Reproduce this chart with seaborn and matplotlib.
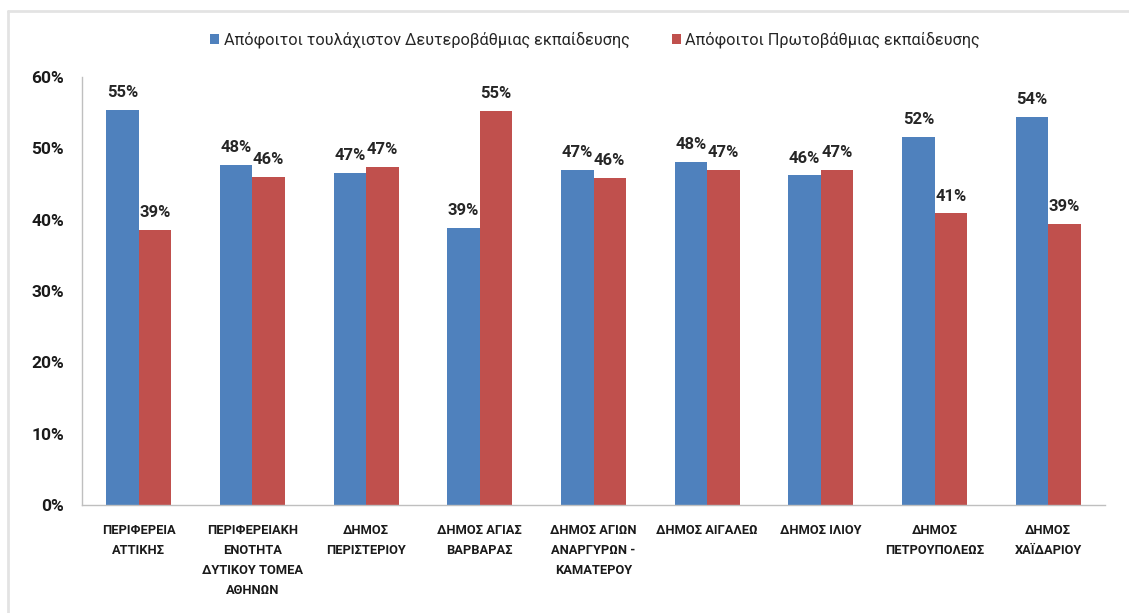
import seaborn as sns
import matplotlib.pyplot as plt
import pandas as pd
import numpy as np
from matplotlib.lines import Line2D
from matplotlib.ticker import FuncFormatter, FixedLocator

categories = [
    "ΠΕΡΙΦΕΡΕΙΑ\nΑΤΤΙΚΗΣ",
    "ΠΕΡΙΦΕΡΕΙΑΚΗ\nΕΝΟΤΗΤΑ\nΔΥΤΙΚΟΥ ΤΟΜΕΑ\nΑΘΗΝΩΝ",
    "ΔΗΜΟΣ\nΠΕΡΙΣΤΕΡΙΟΥ",
    "ΔΗΜΟΣ ΑΓΙΑΣ\nΒΑΡΒΑΡΑΣ",
    "ΔΗΜΟΣ ΑΓΙΩΝ\nΑΝΑΡΓΥΡΩΝ -\nΚΑΜΑΤΕΡΟΥ",
    "ΔΗΜΟΣ ΑΙΓΑΛΕΩ",
    "ΔΗΜΟΣ ΙΛΙΟΥ",
    "ΔΗΜΟΣ\nΠΕΤΡΟΥΠΟΛΕΩΣ",
    "ΔΗΜΟΣ\nΧΑΪΔΑΡΙΟΥ",
]
series_names = [
    "Απόφοιτοι τουλάχιστον Δευτεροβάθμιας εκπαίδευσης",
    "Απόφοιτοι Πρωτοβάθμιας εκπαίδευσης",
]
secondary = [55.4, 47.7, 46.6, 38.8, 47.0, 48.1, 46.2, 51.6, 54.4]
primary = [38.6, 46.0, 47.4, 55.3, 45.9, 47.0, 47.0, 40.9, 39.4]

df = pd.DataFrame({
    "area": categories * 2,
    "series": [series_names[0]] * len(categories) + [series_names[1]] * len(categories),
    "value": secondary + primary,
})

sns.set_style("white")
plt.rcParams['font.family'] = ['Roboto', 'DejaVu Sans']

fig = plt.figure(figsize=(11.29, 6.13), dpi=100)
ax = fig.add_axes([0.0726, 0.1762, 0.9062, 0.6982])

colors = ["#4F81BD", "#C0504D"]
sns.barplot(data=df, x="area", y="value", hue="series", palette=colors,
            width=0.57, gap=0, saturation=1, edgecolor="none", linewidth=0,
            ax=ax, legend=True)

for cont in ax.containers:
    ax.bar_label(cont, labels=[f"{round(b.get_height())}%" for b in cont],
                 padding=7, fontsize=12, fontweight="bold", color="#262626")

ax.set_ylim(0, 60)
ax.set_xlim(-0.5, len(categories) - 0.5)
ax.set_yticks(np.arange(0, 61, 10))
ax.yaxis.set_major_formatter(FuncFormatter(lambda v, p: f"{int(v)}%"))
ax.set_xlabel("")
ax.set_ylabel("")

for s in ["top", "right"]:
    ax.spines[s].set_visible(False)
for s in ["left", "bottom"]:
    ax.spines[s].set_color("#bfbfbf")
    ax.spines[s].set_linewidth(1)

ax.tick_params(axis="y", direction="out", length=5, color="#bfbfbf",
               labelsize=12.5, labelcolor="#1a1a1a", pad=8)
for t in ax.get_yticklabels():
    t.set_fontweight("bold")

ax.tick_params(axis="x", which="major", length=0, pad=14, labelsize=9.3,
               labelcolor="#1a1a1a")
ax.xaxis.set_minor_locator(FixedLocator(np.arange(-0.5, len(categories), 1)))
ax.tick_params(axis="x", which="minor", direction="out", length=5, color="#bfbfbf")
for t in ax.get_xticklabels():
    t.set_fontweight("bold")
    t.set_linespacing(1.7)
    t.set_verticalalignment("top")

handles, labels = ax.get_legend_handles_labels()
ax.legend(handles, labels, loc="center", bbox_to_anchor=(0.527, 0.935),
          bbox_transform=fig.transFigure, ncol=2, frameon=False,
          fontsize=11.7, handlelength=0.55, handleheight=0.55,
          handletextpad=0.3, columnspacing=2.6)

# light frame on top and left like the original picture
fig.add_artist(Line2D([8 / 1129, 1.0], [1 - 11 / 613, 1 - 11 / 613],
                      transform=fig.transFigure, color="#e3e3e3", lw=2))
fig.add_artist(Line2D([8 / 1129, 8 / 1129], [0.0, 1 - 11 / 613],
                      transform=fig.transFigure, color="#e3e3e3", lw=2))

plt.savefig("out.png", dpi=100)
plt.close()
